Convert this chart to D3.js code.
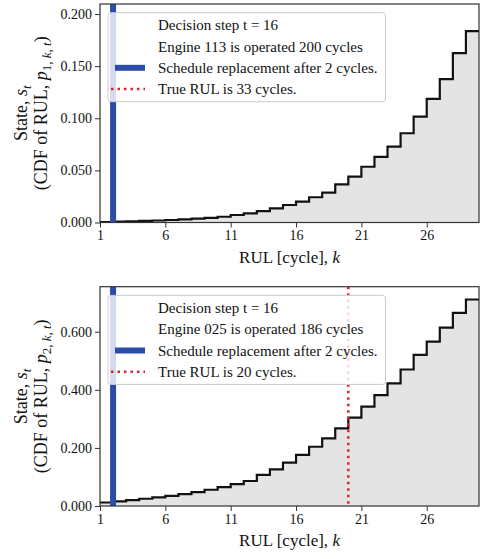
<!DOCTYPE html>
<html><head><meta charset="utf-8">
<script src="https://cdn.jsdelivr.net/npm/d3@7"></script>
<style>
html,body{margin:0;padding:0;background:#fff;}
svg{display:block;font-family:"Liberation Serif","Times New Roman",serif;}
</style></head>
<body><svg id="c" width="483" height="559"></svg>
<script>
// ---- data ----
const rulK = d3.range(1, 30); // k = 1..29
const cdfEngine1 = [0.0005,0.0008,0.0011,0.0015,0.0019,0.0024,0.0030,0.0037,0.0045,0.0055,0.0072,0.0088,0.0110,0.0136,0.0168,0.0200,0.0242,0.0286,0.0366,0.0440,0.0535,0.0630,0.0727,0.0856,0.1015,0.1185,0.1375,0.1625,0.1835];
const cdfEngine2 = [0.012,0.016,0.020,0.025,0.030,0.035,0.041,0.048,0.056,0.065,0.075,0.086,0.107,0.126,0.149,0.176,0.204,0.233,0.267,0.304,0.342,0.382,0.422,0.470,0.520,0.566,0.614,0.665,0.711];
const yTicks1 = [0, 0.05, 0.10, 0.15, 0.20];
const yTicks2 = [0, 0.2, 0.4, 0.6];
const xTicks = [1, 6, 11, 16, 21, 26];
const panels = [
  {engine:"113", op:"200", trueRul:33, replaceAfter:2, step:16, sub:"1", cdf:cdfEngine1, ticks:yTicks1, ymax:0.2096,
   box:{l:100,r:479,t:4,b:222.5}},
  {engine:"025", op:"186", trueRul:20, replaceAfter:2, step:16, sub:"2", cdf:cdfEngine2, ticks:yTicks2, ymax:0.755,
   box:{l:100,r:479,t:286.7,b:506}}
];
const BLUE = "#2c4ca8", RED = "#e3202e", INK = "#111";

const svg = d3.select("#c");

panels.forEach(P => {
  const B = P.box;
  const x = d3.scaleLinear().domain([1, 30]).range([B.l, B.r]);
  const y = d3.scaleLinear().domain([0, P.ymax]).range([B.b, B.t]);
  const g = svg.append("g");
  const pts = rulK.map((k,i)=>({k, v:P.cdf[i]}));
  pts.push({k:30, v:P.cdf[P.cdf.length-1]});
  const clipId = "clip"+P.sub;
  svg.append("clipPath").attr("id", clipId).append("rect")
    .attr("x", B.l).attr("y", B.t).attr("width", B.r-B.l).attr("height", B.b-B.t);
  const inner = g.append("g").attr("clip-path", `url(#${clipId})`);
  inner.append("path").datum(pts)
    .attr("d", d3.area().x(d=>x(d.k)).y0(y(0)).y1(d=>y(d.v)).curve(d3.curveStepAfter))
    .attr("fill", "#e4e4e4");
  inner.append("path").datum(pts)
    .attr("d", d3.line().x(d=>x(d.k)).y(d=>y(d.v)).curve(d3.curveStepAfter))
    .attr("fill", "none").attr("stroke", "#111").attr("stroke-width", 2.2);
  // replacement line
  inner.append("line").attr("x1", x(P.replaceAfter)).attr("x2", x(P.replaceAfter))
    .attr("y1", B.t).attr("y2", B.b).attr("stroke", BLUE).attr("stroke-width", 6);
  // true RUL line
  if (P.trueRul <= 30) {
    inner.append("line").attr("x1", x(P.trueRul)).attr("x2", x(P.trueRul))
      .attr("y1", B.t).attr("y2", B.b).attr("stroke", RED).attr("stroke-width", 2.5)
      .attr("stroke-dasharray", "2.5,4");
  }
  // frame
  g.append("rect").attr("x", B.l).attr("y", B.t).attr("width", B.r-B.l).attr("height", B.b-B.t)
    .attr("fill","none").attr("stroke","#333").attr("stroke-width",1.2);
  // axes
  const ax = g.append("g").attr("transform", `translate(0,${B.b})`)
    .call(d3.axisBottom(x).tickValues(xTicks).tickFormat(d3.format("d")).tickSize(5).tickPadding(3));
  const ay = g.append("g").attr("transform", `translate(${B.l},0)`)
    .call(d3.axisLeft(y).tickValues(P.ticks).tickFormat(d3.format(".3f")).tickSize(5).tickPadding(3));
  [ax, ay].forEach(a => {
    a.select(".domain").remove();
    a.selectAll("line").attr("stroke","#333");
    a.selectAll("text").attr("font-size", 14).attr("fill",INK).attr("font-family","Liberation Serif");
  });
  // x label
  const xl = g.append("text").attr("x", (B.l+B.r)/2).attr("y", B.b+40)
    .attr("text-anchor","middle").attr("font-size",17).attr("fill",INK);
  xl.append("tspan").text("RUL [cycle], ");
  xl.append("tspan").attr("font-style","italic").text("k");
  // y label
  const cy = (B.t+B.b)/2;
  const yl1 = g.append("text").attr("transform", `translate(27,${cy}) rotate(-90)`)
    .attr("text-anchor","middle").attr("font-size",18).attr("fill",INK);
  yl1.append("tspan").text("State, ");
  yl1.append("tspan").attr("font-style","italic").text("s");
  yl1.append("tspan").attr("font-style","italic").attr("font-size",13).attr("dy",4).text("t");
  const yl2 = g.append("text").attr("transform", `translate(47,${cy}) rotate(-90)`)
    .attr("text-anchor","middle").attr("font-size",18).attr("fill",INK);
  yl2.append("tspan").text("(CDF of RUL, ");
  yl2.append("tspan").attr("font-style","italic").text("p");
  const s = yl2.append("tspan").attr("font-size",13).attr("dy",4);
  s.append("tspan").text(P.sub + ", ");
  s.append("tspan").attr("font-style","italic").text("k");
  s.append("tspan").text(", ");
  s.append("tspan").attr("font-style","italic").text("t");
  yl2.append("tspan").attr("dy",-4).text(")");
  // legend
  const L = {x:108, y:B.t+8.7, w:277.5, h:89};
  g.append("rect").attr("x",L.x).attr("y",L.y).attr("width",L.w).attr("height",L.h).attr("rx",3)
    .attr("fill","#fff").attr("fill-opacity",0.8).attr("stroke","#ccc").attr("stroke-width",1);
  const rows = [
    {t:`Decision step t = ${P.step}`},
    {t:`Engine ${P.engine} is operated ${P.op} cycles`},
    {t:`Schedule replacement after ${P.replaceAfter} cycles.`, h:"blue"},
    {t:`True RUL is ${P.trueRul} cycles.`, h:"red"}
  ];
  rows.forEach((r,i) => {
    const ry = L.y + 12.5 + i*21.3;
    g.append("text").attr("x", 158).attr("y", ry+5).attr("font-size",15).attr("fill",INK).text(r.t);
    if (r.h === "blue") g.append("line").attr("x1",115).attr("x2",145).attr("y1",ry).attr("y2",ry)
      .attr("stroke",BLUE).attr("stroke-width",6);
    if (r.h === "red") g.append("line").attr("x1",111).attr("x2",145).attr("y1",ry).attr("y2",ry)
      .attr("stroke",RED).attr("stroke-width",2.5).attr("stroke-dasharray","2.5,4");
  });
});
</script></body></html>
